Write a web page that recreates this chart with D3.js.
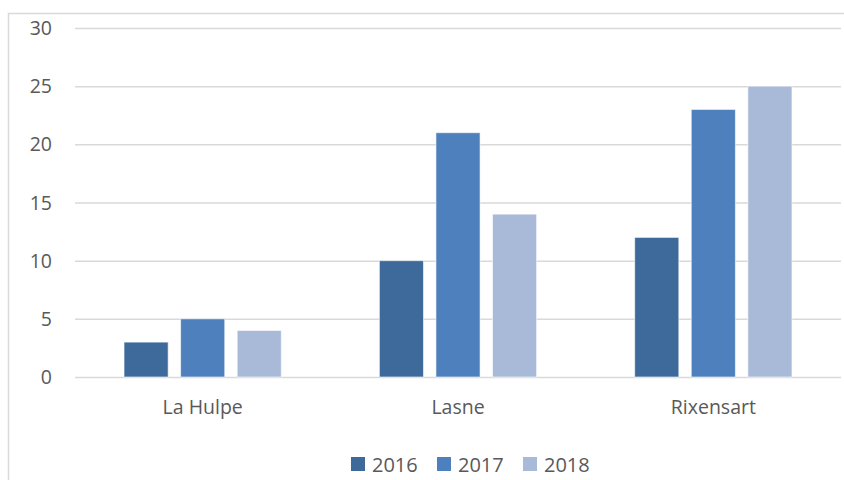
<!DOCTYPE html>
<html><head><meta charset="utf-8">
<script src="https://cdn.jsdelivr.net/npm/d3@7"></script>
<style>body{margin:0;background:#fff}svg{display:block}text{font-family:"Open Sans","Noto Sans",sans-serif;fill:#595959}</style>
</head><body><svg id="c" width="844" height="480"></svg>
<script>
const categories = ["La Hulpe", "Lasne", "Rixensart"];
const seriesNames = ["2016", "2017", "2018"];
const v2016 = [3, 10, 12];
const v2017 = [5, 21, 23];
const v2018 = [4, 14, 25];
const yTicks = [0, 5, 10, 15, 20, 25, 30];
const colors = ["#3E6A9B", "#4D80BC", "#A9BAD8"];

(function () {
const seriesValues = [v2016, v2017, v2018];
const svg = d3.select("#c");
// chart border
svg.append("rect").attr("x", 8.5).attr("y", 13.5).attr("width", 900).attr("height", 600)
  .attr("fill", "none").attr("stroke", "#d9d9d9").attr("stroke-width", 1.5);

const mLeft = 75, mRight = 841, mTop = 28, mBottom = 377;
const y = d3.scaleLinear().domain([0, 30]).range([mBottom, mTop]);
const x0 = d3.scaleBand().domain(categories).range([mLeft, mRight]).padding(0);
const bw = x0.bandwidth();
const x1 = d3.scaleBand().domain(seriesNames).range([bw * 0.192, bw * 0.808]).paddingInner(0.22).paddingOuter(0);

// gridlines
const yAxis = d3.axisLeft(y).tickValues(yTicks).tickSize(-(mRight - mLeft)).tickFormat(d3.format("d")).tickPadding(23);
const ga = svg.append("g").attr("transform", `translate(${mLeft},0)`).call(yAxis);
ga.select(".domain").remove();
ga.selectAll(".tick line").attr("stroke", "#d9d9d9").attr("stroke-width", 1.5);
ga.selectAll(".tick text").attr("font-size", 19.5).attr("dy", "0.34em").style("fill", "#595959");

// bars
const groups = svg.append("g").selectAll("g").data(categories).join("g")
  .attr("transform", d => `translate(${x0(d)},0)`);
groups.selectAll("rect").data((c, i) => seriesNames.map((s, j) => ({s, v: seriesValues[j][i], j})))
  .join("rect")
  .attr("x", d => x1(d.s)).attr("width", x1.bandwidth())
  .attr("y", d => y(d.v)).attr("height", d => y(0) - y(d.v))
  .attr("fill", d => colors[d.j]).attr("stroke", "#ffffff").attr("stroke-opacity", 0.6).attr("stroke-width", 1);

// x axis labels
const xa = d3.axisBottom(x0).tickSize(0).tickPadding(23);
const gx = svg.append("g").attr("transform", `translate(0,${mBottom})`).call(xa);
gx.select(".domain").remove();
gx.selectAll(".tick text").attr("font-size", 19.5).style("fill", "#595959");

// legend
const legX = [351, 437, 523];
const leg = svg.append("g").selectAll("g").data(seriesNames).join("g")
  .attr("transform", (d, i) => `translate(${legX[i]},457)`);
leg.append("rect").attr("width", 14).attr("height", 14).attr("fill", (d, i) => colors[i]);
leg.append("text").attr("x", 21).attr("y", 15).attr("font-size", 20).text(d => d);
})();
</script></body></html>
